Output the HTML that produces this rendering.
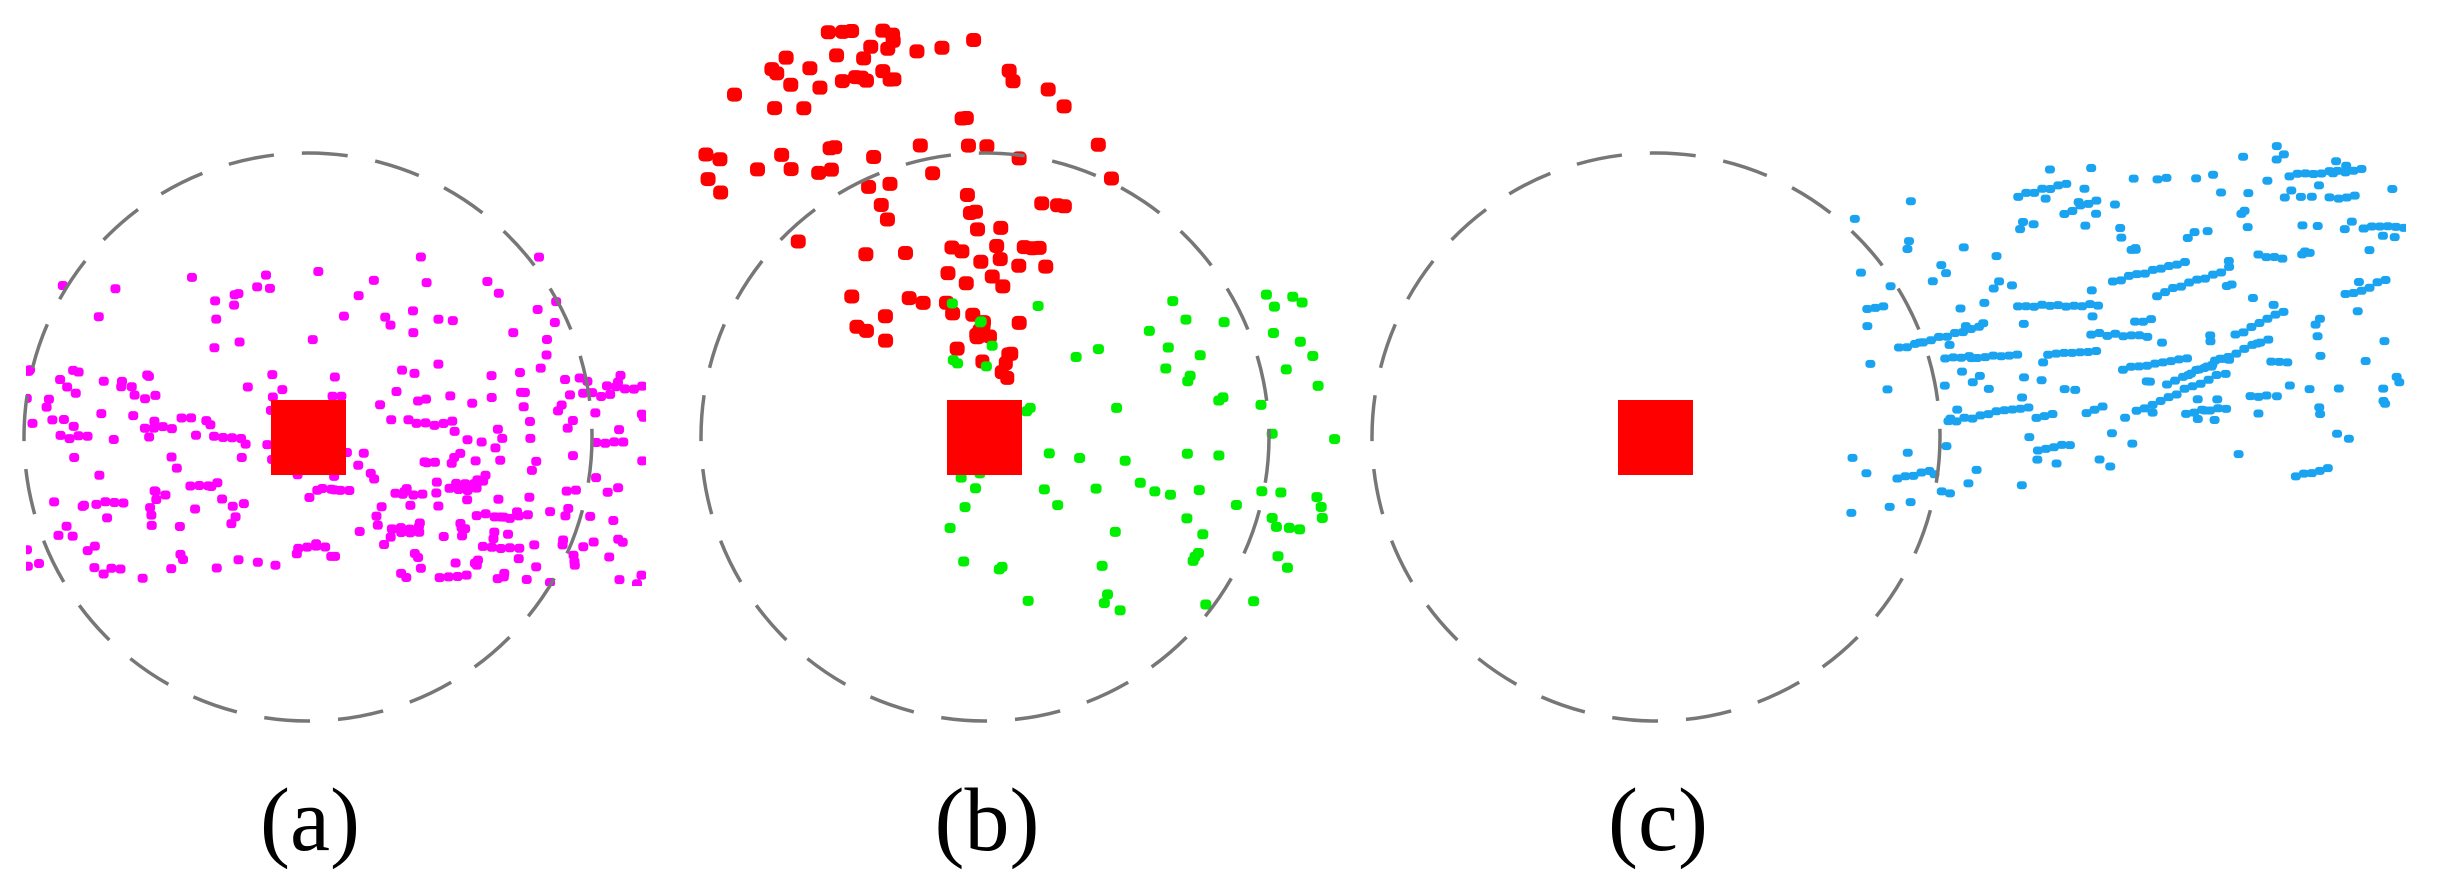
<!DOCTYPE html>
<html><head><meta charset="utf-8">
<style>
html,body{margin:0;padding:0;background:#fff;}
svg{display:block}
</style></head>
<body>
<svg id="s" width="2440" height="882" viewBox="0 0 2440 882" xmlns="http://www.w3.org/2000/svg">
<defs>
<clipPath id="cm"><rect x="26" y="232" width="620" height="354"/></clipPath>
<clipPath id="cb"><rect x="1846" y="141" width="560" height="388"/></clipPath>
</defs>
<g id="mag" clip-path="url(#cm)" fill="#ff00ff"></g>
<g id="red" fill="#ff0000"></g>
<g id="grn" fill="#00ee00"></g>
<g id="blu" clip-path="url(#cb)" fill="#1aa3f0"></g>
<g fill="none" stroke="#777" stroke-width="3.5" stroke-dasharray="46 28">
<circle cx="308" cy="437" r="284"/>
<circle cx="985" cy="437" r="284"/>
<circle cx="1656" cy="437" r="284"/>
</g>
<rect x="271" y="400" width="75" height="75" fill="#ff0000"/>
<rect x="947" y="400" width="75" height="75" fill="#ff0000"/>
<rect x="1618" y="400" width="75" height="75" fill="#ff0000"/>
<g font-family="Liberation Serif, serif" font-size="90" text-anchor="middle" fill="#000">
<text x="310" y="850">(a)</text>
<text x="987" y="850">(b)</text>
<text x="1658" y="850">(c)</text>
</g>
</svg>
<script>
var seed=7;function r(){seed=(seed*16807)%2147483647;return seed/2147483647;}
var NS="http://www.w3.org/2000/svg";
function dot(g,x,y,w,h){var e=document.createElementNS(NS,"rect");e.setAttribute("x",x-w/2);e.setAttribute("y",y-h/2);e.setAttribute("width",w);e.setAttribute("height",h);e.setAttribute("rx",w/3);g.appendChild(e);}
var M=document.getElementById("mag"),R=document.getElementById("red"),G=document.getElementById("grn"),B=document.getElementById("blu");
// magenta
for(var i=0;i<40;i++){dot(M,30+r()*560,250+r()*130,10,9);}
for(var i=0;i<230;i++){dot(M,26+r()*620,370+r()*215,10,9);}
for(var k=0;k<20;k++){var x=30+r()*580,y=380+r()*200;for(var j=0;j<4;j++)dot(M,x+j*9,y+(r()-0.5)*4,10,9);}
// red
for(var i=0;i<100;i++){var y=30+r()*320;var t=(y-30)/320;var w=120+260*Math.sin(Math.PI*Math.min(1,t*1.2))*0.9+60;var x=880+t*70+(r()-0.5)*w; dot(R,x,y,15,14);}
for(var i=0;i<8;i++)dot(R,975+r()*40,335+r()*50,14,14);
// green
for(var i=0;i<80;i++){dot(G,950+r()*370,290+r()*325,11,10);}
for(var i=0;i<5;i++)dot(G,1310+r()*30,380+r()*140,11,10);
// blue streaks
for(var k=0;k<30;k++){var x=1846+r()*540,y=150+r()*370,sl=-0.5+r()*0.6;var n=3+Math.floor(r()*9);for(var j=0;j<n;j++)dot(B,x+j*8,y+j*8*sl+(r()-0.5)*3,10,8);}
for(var i=0;i<160;i++){var x=1846+r()*560;var y=200+r()*320-(x-1846)*0.15;dot(B,x,y,10,8);}
</script>
</body></html>
